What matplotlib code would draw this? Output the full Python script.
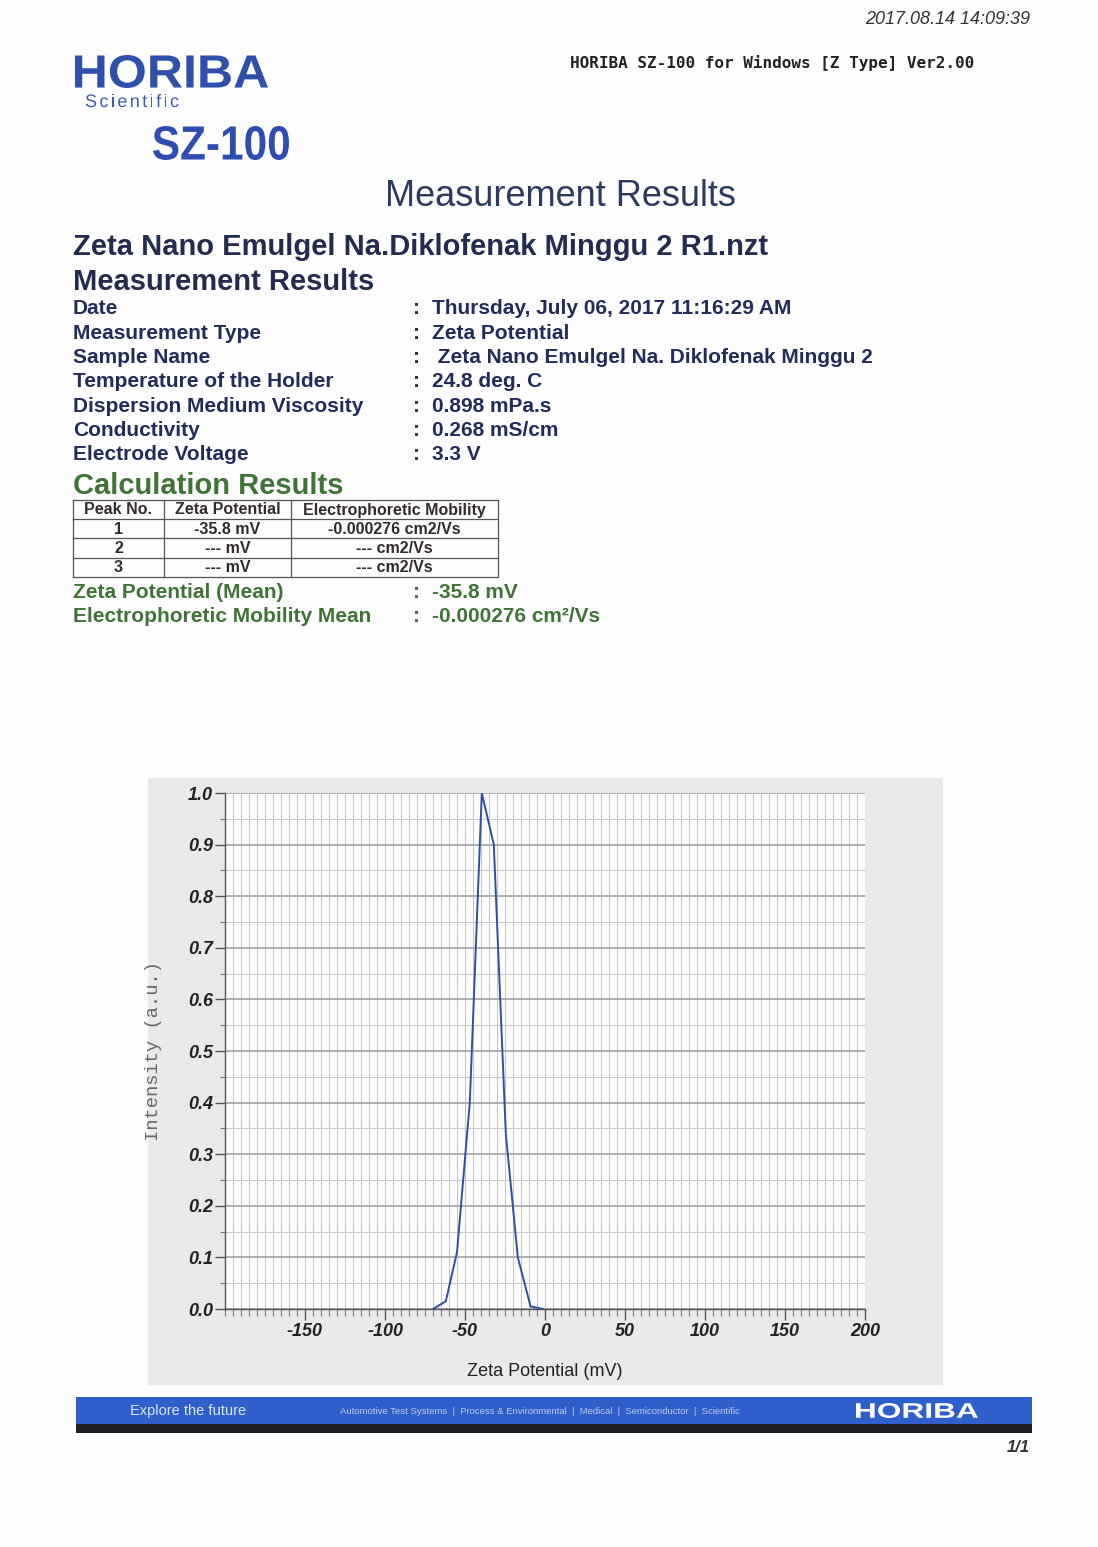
import numpy as np
import matplotlib
matplotlib.use("Agg")
import matplotlib.pyplot as plt
from matplotlib.patches import Rectangle, PathPatch
from matplotlib.textpath import TextPath, TextToPath
from matplotlib.font_manager import FontProperties
from matplotlib.transforms import Affine2D
from matplotlib.ticker import MultipleLocator

W, H = 1098, 1547

# curve
zeta_mv = [-70, -62, -55, -47, -39.5, -32, -24.5, -17, -9, -1]
intensity = [0.0, 0.015, 0.11, 0.40, 1.0, 0.90, 0.34, 0.10, 0.005, 0.0]

x_ticks = [-150, -100, -50, 0, 50, 100, 150, 200]
y_ticks = [0.0, 0.1, 0.2, 0.3, 0.4, 0.5, 0.6, 0.7, 0.8, 0.9, 1.0]

info_labels = ["Date", "Measurement Type", "Sample Name", "Temperature of the Holder",
               "Dispersion Medium Viscosity", "Conductivity", "Electrode Voltage"]
info_values = ["Thursday, July 06, 2017 11:16:29 AM", "Zeta Potential",
               " Zeta Nano Emulgel Na. Diklofenak Minggu 2", "24.8 deg. C",
               "0.898 mPa.s", "0.268 mS/cm", "3.3 V"]

table_header = ["Peak No.", "Zeta Potential", "Electrophoretic Mobility"]
table_rows = [["1", "-35.8 mV", "-0.000276 cm2/Vs"],
              ["2", "--- mV", "--- cm2/Vs"],
              ["3", "--- mV", "--- cm2/Vs"]]

mean_labels = ["Zeta Potential (Mean)", "Electrophoretic Mobility Mean"]
mean_values = ["-35.8 mV", "-0.000276 cm\u00b2/Vs"]

BLUE = "#2e50aa"
NAVY = "#222c5a"
GREEN = "#3f7436"
SANS = "Liberation Sans"

fig = plt.figure(figsize=(W / 100, H / 100), dpi=100, facecolor="#fdfdfd")

# page layer in pixel coordinates (y down)
page = fig.add_axes([0, 0, 1, 1])
page.set_xlim(0, W)
page.set_ylim(H, 0)
page.axis("off")


def fit_text(s, x0, x1, top, bottom, color):
    tp = TextPath((0, 0), s, size=100, prop=FontProperties(family=SANS, weight="bold"))
    bb = tp.get_extents()
    tr = (Affine2D().translate(-bb.x0, -bb.y0)
          .scale((x1 - x0) / bb.width, -(bottom - top) / bb.height)
          .translate(x0, bottom))
    page.add_patch(PathPatch(tr.transform_path(tp), facecolor=color, edgecolor="none", lw=0))


def spaced_text(s, x0, x1, baseline, size_px, color):
    # letter-spaced word, like the "Scientific" under the logo
    prop = FontProperties(family=SANS)
    t2p = TextToPath()
    widths = [t2p.get_text_width_height_descent(c, prop, ismath=False)[0] for c in s]
    scale = size_px / prop.get_size_in_points()
    widths = [w * scale for w in widths]
    gap = (x1 - x0 - sum(widths)) / (len(s) - 1)
    x = x0
    for c, w in zip(s, widths):
        tp = TextPath((0, 0), c, size=size_px, prop=prop)
        tr = Affine2D().scale(1, -1).translate(x, baseline)
        page.add_patch(PathPatch(tr.transform_path(tp), facecolor=color, edgecolor="none", lw=0))
        x += w + gap


def txt(x, y, s, size, **kw):
    kw.setdefault("family", SANS)
    kw.setdefault("va", "center")
    page.text(x, y, s, fontsize=size, **kw)


# header
txt(1030, 19, "2017.08.14 14:09:39", 13, ha="right", style="italic", color="#333333")
fit_text("HORIBA", 75, 268, 55, 88, BLUE)
spaced_text("Scientific", 85, 179, 107, 18, "#3d5db2")
fit_text("SZ-100", 153, 289, 126, 160, "#2d4db0")
txt(570, 63, "HORIBA SZ-100 for Windows [Z Type] Ver2.00", 11.5, family="DejaVu Sans Mono",
    weight="bold", color="#222222")
txt(560, 197, "Measurement Results", 26, ha="center", color="#2c3a5e")

txt(73, 247, "Zeta Nano Emulgel Na.Diklofenak Minggu 2 R1.nzt", 21, weight="bold", color="#232b4e")
txt(73, 282, "Measurement Results", 21, weight="bold", color="#232b4e")

for i, (lab, val) in enumerate(zip(info_labels, info_values)):
    y = 309 + i * 24.3
    txt(73, y, lab, 15, weight="bold", color=NAVY)
    txt(413, y, ":", 15, weight="bold", color=NAVY)
    txt(432, y, val, 15, weight="bold", color=NAVY)

txt(73, 486, "Calculation Results", 21, weight="bold", color=GREEN)

# results table
col_edges = [73, 164, 291, 498]
row_edges = [500, 519, 538, 558, 577]
for x in col_edges:
    page.plot([x, x], [row_edges[0], row_edges[-1]], color="#555555", lw=0.9)
for y in row_edges:
    page.plot([col_edges[0], col_edges[-1]], [y, y], color="#555555", lw=0.9)
for r, row in enumerate([table_header] + table_rows):
    yc = (row_edges[r] + row_edges[r + 1]) / 2 + 0.5
    for c, cell in enumerate(row):
        xc = (col_edges[c] + col_edges[c + 1]) / 2
        txt(xc, yc, cell, 11.5, ha="center", weight="bold", color="#332a2c")

for i, (lab, val) in enumerate(zip(mean_labels, mean_values)):
    y = 592 + i * 24.5
    txt(73, y, lab, 15, weight="bold", color=GREEN)
    txt(413, y, ":", 15, weight="bold", color=GREEN)
    txt(432, y, val, 15, weight="bold", color=GREEN)

# grey panel behind the chart
page.add_patch(Rectangle((148, 778), 795, 607, facecolor="#e9e9eb", edgecolor="none"))

# footer
page.add_patch(Rectangle((76, 1397), 956, 27, facecolor="#2f5fca", edgecolor="none"))
page.add_patch(Rectangle((76, 1424), 956, 9, facecolor="#1d1d23", edgecolor="none"))
txt(130, 1411, "Explore the future", 10.5, color="#dde6f8")
txt(340, 1411, "Automotive Test Systems  |  Process & Environmental  |  Medical  |  "
    "Semiconductor  |  Scientific", 6.8, color="#bccbef")
fit_text("HORIBA", 856, 978, 1403, 1418, "white")
txt(1030, 1448, "1/1", 12, ha="right", style="italic", weight="bold", color="#333333")

# chart
ax = fig.add_axes([225 / W, 1 - 1309 / H, 640 / W, 516 / H])
ax.set_facecolor("white")
ax.plot(zeta_mv, intensity, color="#2f4fa5", lw=1.4, zorder=3)
ax.set_xlim(-200, 200)
ax.set_ylim(0, 1)
ax.set_xticks(x_ticks)
ax.set_yticks(y_ticks)
ax.xaxis.set_minor_locator(MultipleLocator(5))
ax.yaxis.set_minor_locator(MultipleLocator(0.05))
ax.set_xticklabels([str(v) for v in x_ticks])
ax.set_yticklabels([f"{v:.1f}" for v in y_ticks])
ax.grid(which="major", axis="y", color="#a9a9a9", lw=1.3)
ax.grid(which="minor", axis="y", color="#cacaca", lw=0.8)
ax.grid(which="both", axis="x", color="#c6c6c6", lw=0.8)
ax.set_axisbelow(True)
for side in ["top", "right"]:
    ax.spines[side].set_visible(False)
for side in ["left", "bottom"]:
    ax.spines[side].set_color("#555555")
    ax.spines[side].set_linewidth(1.0)
ax.tick_params(axis="y", which="major", length=7, width=1, color="#555555", pad=1.5)
ax.tick_params(axis="y", which="minor", length=3.6, width=0.8, color="#777777")
ax.tick_params(axis="x", which="major", length=8, width=1, color="#555555", pad=2)
ax.tick_params(axis="x", which="minor", length=5, width=0.8, color="#777777")
for lab in ax.get_xticklabels() + ax.get_yticklabels():
    lab.set_fontfamily(SANS)
    lab.set_fontsize(13)
    lab.set_fontweight("bold")
    lab.set_fontstyle("italic")
    lab.set_color("#222222")
ax.set_ylabel("Intensity (a.u.)", family="Liberation Mono", fontsize=13.5, color="#666666")
ax.yaxis.set_label_coords(-0.0984, 0.5)
ax.set_xlabel("Zeta Potential (mV)", family=SANS, fontsize=13, color="#222222")
ax.xaxis.set_label_coords(0.5, -0.105)

fig.savefig("out.png", dpi=100, facecolor=fig.get_facecolor())
